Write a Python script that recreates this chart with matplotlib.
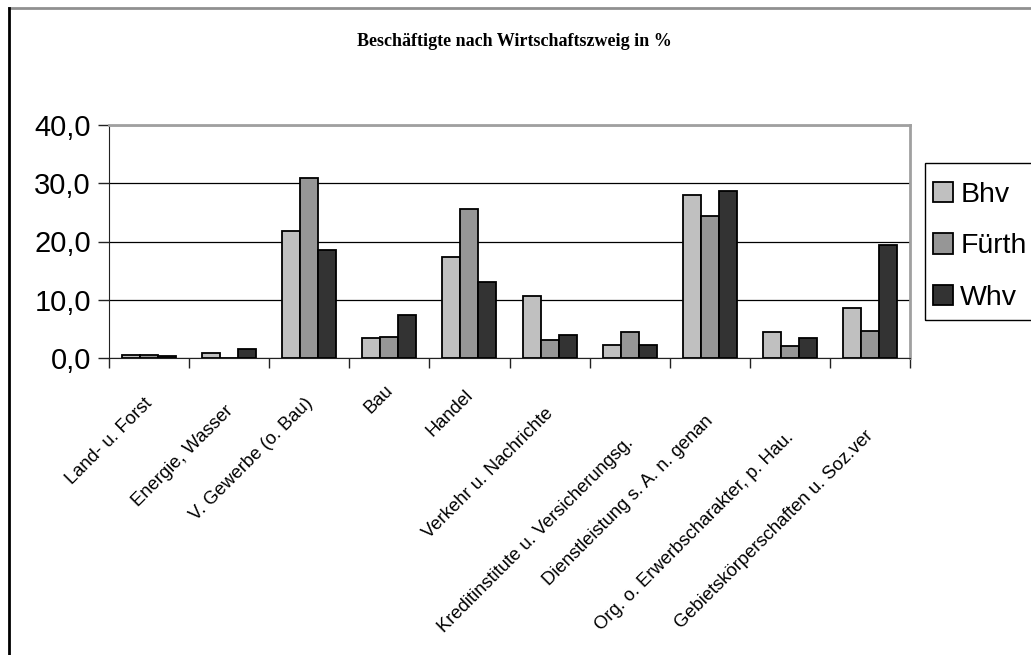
import numpy as np
import matplotlib
matplotlib.use("Agg")
import matplotlib.pyplot as plt
from matplotlib.lines import Line2D
from matplotlib.patches import Rectangle

# Data
categories = ["Land- u. Forst", "Energie, Wasser", "V. Gewerbe (o. Bau)", "Bau", "Handel",
              "Verkehr u. Nachrichte", "Kreditinstitute u. Versicherungsg.",
              "Dienstleistung s. A. n. genan", "Org. o. Erwerbscharakter, p. Hau.",
              "Gebietskörperschaften u. Soz.ver"]
bhv = [0.5, 0.9, 21.8, 3.4, 17.3, 10.7, 2.2, 27.9, 4.5, 8.6]
fuerth = [0.5, 0.0, 30.9, 3.6, 25.6, 3.1, 4.4, 24.3, 2.0, 4.7]
whv = [0.4, 1.5, 18.6, 7.4, 13.1, 3.9, 2.2, 28.7, 3.4, 19.4]
series_names = ["Bhv", "Fürth", "Whv"]
colors = ["#c0c0c0", "#969696", "#333333"]
yticks = [0, 10, 20, 30, 40]

# how far (px) each rotated label sits below the axis, as in the original layout
label_drop = [37, 44, 37, 24, 29, 47, 76, 54, 71, 69]

plt.rcParams['font.family'] = ['Liberation Sans', 'DejaVu Sans']

fig = plt.figure(figsize=(10.31, 6.55), dpi=100)
ax = fig.add_axes([109/1031, 1 - 358/655, (910 - 109)/1031, (358 - 125)/655])

x = np.arange(len(categories))
w = 0.225
for i, (vals, name, c) in enumerate(zip([bhv, fuerth, whv], series_names, colors)):
    ax.bar(x + (i - 1) * w, vals, width=w, color=c, edgecolor="black",
           linewidth=1.3, label=name, zorder=3)

ax.set_xlim(-0.5, len(categories) - 0.5)
ax.set_ylim(0, 40)
ax.set_yticks(yticks)
ax.set_yticklabels([f"{v:.1f}".replace(".", ",") for v in yticks], fontsize=21)
ax.tick_params(axis="y", length=8, width=1, pad=5, color="#222222")
ax.yaxis.grid(True, color="black", linewidth=0.9, zorder=0)

# ticks between categories, labels at centres
ax.set_xticks(np.arange(len(categories) + 1) - 0.5)
ax.set_xticklabels([])
ax.tick_params(axis="x", length=7, width=1, color="#222222")
for i, (lab, d) in enumerate(zip(categories, label_drop)):
    ax.annotate(lab, xy=(i, 0), xycoords=("data", "axes fraction"),
                xytext=(-5, -d), textcoords="offset pixels",
                rotation=45, ha="right", va="top", rotation_mode="anchor",
                fontsize=13.2)

ax.spines["left"].set_color("#222222")
ax.spines["bottom"].set_color("#222222")
ax.spines["top"].set_color("#a0a0a0")
ax.spines["right"].set_color("#a0a0a0")
ax.spines["top"].set_linewidth(2)
ax.spines["right"].set_linewidth(2)

fig.text(514/1031, 1 - 42/655, "Beschäftigte nach Wirtschaftszweig in %",
         ha="center", va="center", fontsize=13, fontweight="bold",
         family="Liberation Serif")

# legend, frame drawn separately (it runs off the right edge)
leg = ax.legend(loc="upper left", bbox_to_anchor=(924/1031, 1 - 173/655),
                bbox_transform=fig.transFigure, fontsize=20.5, frameon=False,
                handlelength=0.72, handleheight=0.72, handletextpad=0.25,
                labelspacing=0.9, borderpad=0.3, borderaxespad=0)
fig.add_artist(Rectangle((925/1031, 1 - 320/655), 0.2, (320 - 163)/655,
                         transform=fig.transFigure, facecolor="none",
                         edgecolor="black", linewidth=1))

# chart area border
fig.add_artist(Line2D([9/1031, 1], [1 - 8/655, 1 - 8/655], color="#909090", linewidth=2))
fig.add_artist(Line2D([9/1031, 9/1031], [0, 1 - 8/655], color="black", linewidth=2))

fig.savefig("out.png", dpi=100)
